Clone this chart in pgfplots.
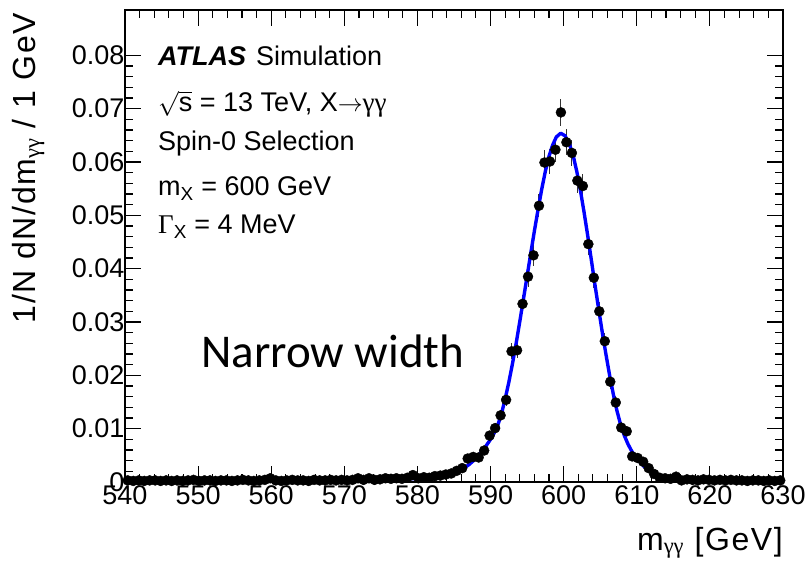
\documentclass[border=0pt]{standalone}
\usepackage{fontspec}
\setmainfont{Liberation Sans}
\newfontfamily\symfont{Liberation Serif}
\newfontfamily\calibri{Carlito}
\newfontfamily\widesans[LetterSpace=5]{Liberation Sans}
\usepackage{pgfplots}
\pgfplotsset{compat=1.18}
\usepackage{pgfplotstable}

\pgfplotstableread{
x y e
540.375 0.0003 0.00016
541.125 0.0002 0.00013
541.875 0.0003 0.00016
542.625 0.0002 0.00013
543.375 0.0003 0.00016
544.125 0.0003 0.00016
544.875 0.0002 0.00013
545.625 0.0003 0.00016
546.375 0.0002 0.00013
547.125 0.0003 0.00016
547.875 0.0002 0.00013
548.625 0.0003 0.00016
549.375 0.0004 0.00019
550.125 0.0002 0.00013
550.875 0.0003 0.00016
551.625 0.0003 0.00016
552.375 0.0002 0.00013
553.125 0.0003 0.00016
553.875 0.0003 0.00016
554.625 0.0002 0.00013
555.375 0.0003 0.00016
556.125 0.0004 0.00019
556.875 0.0003 0.00016
557.625 0.0002 0.00013
558.375 0.0003 0.00016
559.125 0.0004 0.00019
559.875 0.0007 0.00025
560.625 0.0003 0.00016
561.375 0.0002 0.00013
562.125 0.0003 0.00016
562.875 0.0004 0.00019
563.625 0.0003 0.00016
564.375 0.0003 0.00016
565.125 0.0002 0.00013
565.875 0.0004 0.00019
566.625 0.0003 0.00016
567.375 0.0003 0.00016
568.125 0.0004 0.00019
568.875 0.0003 0.00016
569.625 0.0004 0.00019
570.375 0.0003 0.00016
571.125 0.0004 0.00019
571.875 0.0007 0.00025
572.625 0.0004 0.00019
573.375 0.0007 0.00025
574.125 0.0004 0.00019
574.875 0.0005 0.00021
575.625 0.0007 0.00025
576.375 0.0006 0.00023
577.125 0.0007 0.00025
577.875 0.0006 0.00023
578.625 0.0008 0.00027
579.375 0.0013 0.00034
580.125 0.0007 0.00025
580.875 0.0009 0.00029
581.625 0.0008 0.00027
582.375 0.0011 0.00032
583.125 0.0012 0.00033
583.875 0.0014 0.00036
584.625 0.0016 0.00038
585.375 0.0021 0.00044
586.125 0.0026 0.00048
586.875 0.0044 0.00063
587.625 0.0047 0.00065
588.375 0.0046 0.00064
589.125 0.0059 0.00073
589.875 0.0087 0.00089
590.625 0.0101 0.00095
591.375 0.0125 0.00106
592.125 0.0154 0.00118
592.875 0.0245 0.00149
593.625 0.0247 0.00149
594.375 0.0334 0.00174
595.125 0.0385 0.00186
595.875 0.0425 0.00196
596.625 0.0518 0.00216
597.375 0.0599 0.00233
598.125 0.0601 0.00233
598.875 0.0623 0.00237
599.625 0.0693 0.00250
600.375 0.0637 0.00240
601.125 0.0617 0.00236
601.875 0.0565 0.00226
602.625 0.0555 0.00224
603.375 0.0446 0.00201
604.125 0.0383 0.00186
604.875 0.0320 0.00170
605.625 0.0264 0.00154
606.375 0.0188 0.00130
607.125 0.0149 0.00116
607.875 0.0102 0.00096
608.625 0.0095 0.00093
609.375 0.0048 0.00066
610.125 0.0045 0.00064
610.875 0.0038 0.00059
611.625 0.0026 0.00048
612.375 0.0015 0.00037
613.125 0.0008 0.00027
613.875 0.0007 0.00025
614.625 0.0006 0.00023
615.375 0.0010 0.00030
616.125 0.0003 0.00016
616.875 0.0005 0.00021
617.625 0.0004 0.00019
618.375 0.0003 0.00016
619.125 0.0005 0.00021
619.875 0.0004 0.00019
620.625 0.0003 0.00016
621.375 0.0004 0.00019
622.125 0.0003 0.00016
622.875 0.0004 0.00019
623.625 0.0003 0.00016
624.375 0.0003 0.00016
625.125 0.0002 0.00013
625.875 0.0003 0.00016
626.625 0.0003 0.00016
627.375 0.0002 0.00013
628.125 0.0003 0.00016
628.875 0.0002 0.00013
629.625 0.0003 0.00016
}\datatable

\pgfplotstableread{
x y
540 0.0002
555 0.0002
565 0.0003
572 0.0003
576 0.0004
579 0.0006
581 0.0007
582.5 0.0009
584 0.0013
585 0.0017
586 0.0023
587 0.0032
588 0.0044
589 0.0060
590 0.0080
590.5 0.0092
591 0.0107
591.5 0.0128
592 0.0156
592.5 0.0187
593 0.0222
593.5 0.0260
594 0.0301
594.5 0.0343
595 0.0386
595.5 0.0429
596 0.0471
596.5 0.0511
597 0.0549
597.5 0.0583
598 0.0611
598.5 0.0632
599 0.0647
599.6 0.0654
600.2 0.0649
600.8 0.0633
601.3 0.0612
601.8 0.0582
602.3 0.0546
602.8 0.0505
603.3 0.0461
603.8 0.0415
604.3 0.0368
604.8 0.0323
605.3 0.0279
605.8 0.0238
606.3 0.0199
606.8 0.0164
607.3 0.0133
607.8 0.0107
608.3 0.0087
608.8 0.0071
609.3 0.0058
610 0.0044
611 0.0029
612 0.0019
613 0.0013
614 0.0010
615.5 0.0008
618.5 0.0006
622 0.0004
626 0.0003
630 0.0003
}\fittable

\begin{document}
\begin{tikzpicture}
\useasboundingbox (-125pt,-81pt) rectangle (682pt,482pt);
\begin{axis}[
  at={(0pt,0pt)}, anchor=south west,
  scale only axis, width=658pt, height=472pt,
  xmin=540, xmax=630, ymin=0, ymax=0.0885,
  xtick={540,550,560,570,580,590,600,610,620,630},
  ytick={0,0.01,0.02,0.03,0.04,0.05,0.06,0.07,0.08},
  minor x tick num=4, minor y tick num=4,
  tick align=inside, tick pos=both,
  xticklabel pos=left, yticklabel pos=left,
  major tick length=16pt, minor tick length=8pt,
  every tick/.style={black, line width=1.1pt},
  axis line style={line width=1.4pt},
  scaled y ticks=false,
  /pgf/number format/assume math mode=true,
  yticklabel style={/pgf/number format/fixed, /pgf/number format/precision=2, xshift=3pt},
  ticklabel style={font=\fontsize{27}{31}\selectfont},
  clip=false,
]
\addplot[only marks, mark=*, mark size=5pt, black,
  error bars/.cd, y dir=both, y explicit,
  error bar style={line width=1pt, black!80}, error mark=none]
  table[x=x, y=y, y error=e] {\datatable};
\addplot[no marks, blue, line width=3.4pt, line join=round] table[x=x, y=y] {\fittable};
\end{axis}
\node[anchor=base west, font=\fontsize{27}{32}\selectfont, inner sep=0pt] at (33pt,416pt) {\textbf{\textit{ATLAS}}\hspace{10pt}Simulation};
\node[anchor=base west, font=\fontsize{27}{32}\selectfont, inner sep=0pt] at (33pt,370pt) {\ensuremath{\sqrt{\mbox{s}}} = 13 TeV, X\ensuremath{\rightarrow}{\symfont γγ}};
\node[anchor=base west, font=\fontsize{27}{32}\selectfont, inner sep=0pt] at (33pt,331pt) {Spin-0 Selection};
\node[anchor=base west, font=\fontsize{27}{32}\selectfont, inner sep=0pt] at (33pt,286pt) {m\textsubscript{X} = 600 GeV};
\node[anchor=base west, font=\fontsize{27}{32}\selectfont, inner sep=0pt] at (33pt,248pt) {{\symfont Γ}\textsubscript{X} = 4 MeV};
\node[anchor=base west, font=\calibri\fontsize{47}{52}\selectfont, inner sep=0pt] at (76pt,114pt) {Narrow width};
\node[anchor=base east, font=\widesans\fontsize{32}{36}\selectfont, inner sep=0pt] at (658pt,-68pt) {m\textsubscript{\symfont γγ} [GeV]};
\node[anchor=base east, rotate=90, font=\widesans\fontsize{32}{36}\selectfont, inner sep=0pt] at (-89pt,469pt) {1/N dN/dm\textsubscript{\symfont γγ} / 1 GeV};
\end{tikzpicture}
\end{document}
